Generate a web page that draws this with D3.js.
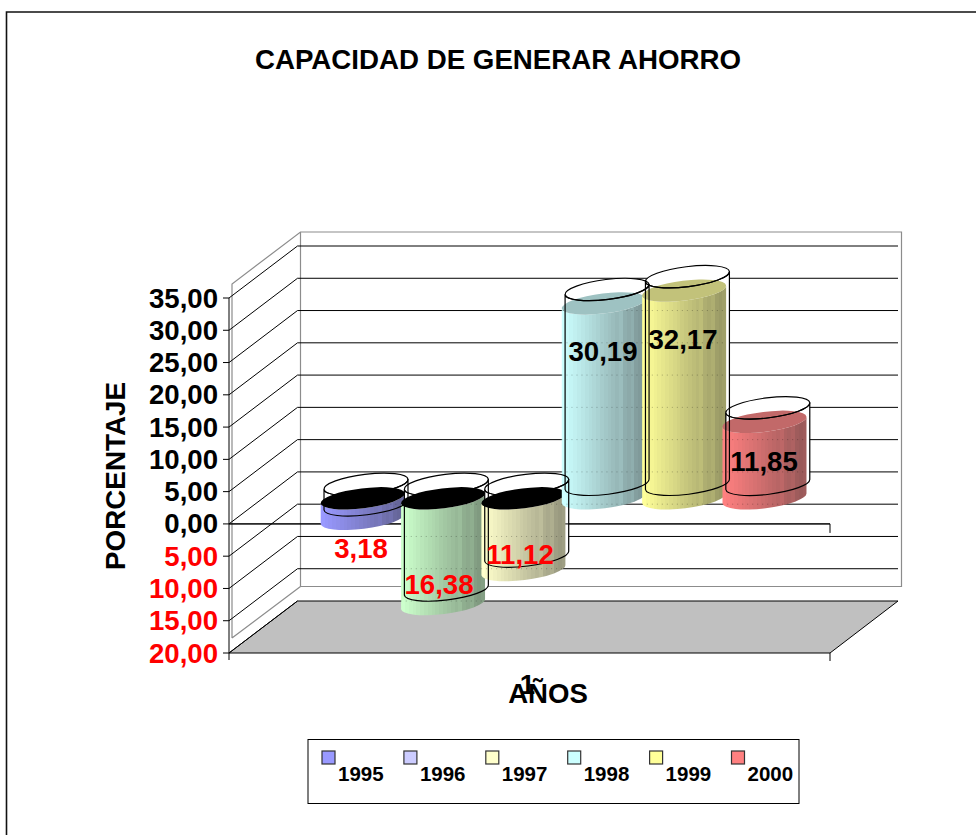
<!DOCTYPE html>
<html><head><meta charset="utf-8">
<script src="https://d3js.org/d3.v7.min.js"></script>
<style>html,body{margin:0;padding:0;background:#fff}svg{display:block}text{font-family:"Liberation Sans",Arial,sans-serif;font-weight:bold}</style>
</head><body><div id="c"></div>
<script>
const years = ["1995","1996","1997","1998","1999","2000"];
const values = [-3.18,-16.38,-11.12,30.19,32.17,11.85];
const labels = ["3,18","16,38","11,12","30,19","32,17","11,85"];
const ticks = [35,30,25,20,15,10,5,0,-5,-10,-15,-20];
const tickLabels = ["35,00","30,00","25,00","20,00","15,00","10,00","5,00","0,00","5,00","10,00","15,00","20,00"];
const legendColors = ["#9999ff","#ccccff","#ffffcc","#ccffff","#ffff99","#ff8080"];
const barColors = ["#9999ff","#ccffcc","#ffffcc","#ccffff","#ffff99","#ff8080"];
const labelPos = [[361,558],[439,594],[520,564],[603,361],[683,349],[764,471]];

const W=976,H=835;
const svg=d3.select("#c").append("svg").attr("width",W).attr("height",H);
const defs=svg.append("defs");
const y=d3.scaleLinear().domain([-20,35]).range([653,298]);
const x=d3.scalePoint().domain(years).range([362.7,764.5]);
const X0=229,X1=830,DX=68.5,DY=-52,BACKR=898;

// frame
svg.append("path").attr("d",`M6.5,${H}V12H${W}`).attr("fill","none").attr("stroke","#111").attr("stroke-width",1.6);
svg.append("text").attr("x",498).attr("y",69).attr("text-anchor","middle").attr("font-size",27.7).text("CAPACIDAD DE GENERAR AHORRO");

// walls
const wall=svg.append("g").attr("fill","none").attr("stroke","#8c8c8c").attr("stroke-width",1.2);
wall.append("path").attr("d","M232,638V284L300.5,232H901.5V586.5H300.5V232M300.5,586.5L232,638");
// floor
svg.append("path").attr("d",`M${X0},${y(-20)}L${X0+DX},${y(-20)+DY}H${BACKR}L${X1},${y(-20)}Z`).attr("fill","#c0c0c0").attr("stroke","#000");

// grid
const grid=svg.append("g").attr("stroke","#000").attr("fill","none");
ticks.forEach(t=>{
  const v=y(t);
  grid.append("path").attr("d",t===-20?`M${X0},${v}L${X0+DX},${v+DY}`:`M${X0},${v}L${X0+DX},${v+DY}H${BACKR}`);
});
// axis
const axis=svg.append("g").attr("stroke","#000");
axis.append("line").attr("x1",X0).attr("x2",X0).attr("y1",y(35)).attr("y2",660);
ticks.forEach(t=>axis.append("line").attr("x1",X0-6).attr("x2",X0).attr("y1",y(t)).attr("y2",y(t)));
axis.append("line").attr("x1",X0).attr("x2",X1).attr("y1",y(0)).attr("y2",y(0));
axis.append("line").attr("x1",X1).attr("x2",X1).attr("y1",y(0)).attr("y2",y(0)+9);
axis.append("line").attr("x1",X1).attr("x2",X1).attr("y1",y(-20)).attr("y2",y(-20)+8);

// tick labels
ticks.forEach((t,i)=>svg.append("text").attr("x",218).attr("y",y(t)+9.5).attr("text-anchor","end")
  .attr("font-size",27.6).attr("fill",t<0?"#ff0000":"#000").text(tickLabels[i]));

// cylinders
const RX=42.3,RY=10,ROT=-7,rad=ROT*Math.PI/180;
const ex=RX*Math.cos(rad),ey=RX*Math.sin(rad);
const ell=(cx,cy)=>`M${cx-ex},${cy-ey}A${RX},${RY} ${ROT} 1 1 ${cx+ex},${cy+ey}A${RX},${RY} ${ROT} 1 1 ${cx-ex},${cy-ey}Z`;
const body=(cx,t,b)=>`M${cx-ex},${t-ey}L${cx-ex},${b-ey}A${RX},${RY} ${ROT} 0 0 ${cx+ex},${b+ey}L${cx+ex},${t+ey}A${RX},${RY} ${ROT} 0 1 ${cx-ex},${t-ey}Z`;
const FY=d=>y(d)-25.6, OY=d=>y(d)-39.6, OX=3.3;

// gradients: banded, lighter at left and darker at right
barColors.forEach((c,i)=>{
  const g=defs.append("linearGradient").attr("id","g"+i).attr("x1",0).attr("x2",1).attr("y1",0).attr("y2",0);
  const dark=d3.interpolateRgb(c,"#333");
  const n=22;
  d3.range(n).forEach(k=>{
    const f=k/(n-1)*0.52-(k>12&&k%3===0?0.05:0);
    const col=dark(Math.max(f,0));
    g.append("stop").attr("offset",k/n).attr("stop-color",col);
    g.append("stop").attr("offset",(k+1)/n).attr("stop-color",col);
  });
  defs.append("clipPath").attr("id","cp"+i).append("path").attr("d",body(x(years[i]),Math.min(FY(0),FY(values[i])),Math.max(FY(0),FY(values[i]))));
});

// white interior of outline cylinders
const whites=svg.append("g");
years.forEach((yr,i)=>{
  const cx=x(yr)+OX;
  const a=OY(0),b=OY(values[i]);
  whites.append("path").attr("d",body(cx,Math.min(a,b),Math.max(a,b))).attr("fill","#fff");
  whites.append("path").attr("d",ell(cx,Math.min(a,b))).attr("fill","#fff");
});
// redraw the zero line on top of the white interiors
svg.append("line").attr("x1",X0).attr("x2",X1).attr("y1",y(0)).attr("y2",y(0)).attr("stroke","#000");
// solid cylinders
years.forEach((yr,i)=>{
  const cx=x(yr),v=values[i];
  const a=FY(0),b=FY(v),top=Math.min(a,b),bot=Math.max(a,b);
  svg.append("path").attr("d",body(cx,top,bot)).attr("fill",`url(#g${i})`);
  svg.append("path").attr("d",ell(cx,top)).attr("fill",v<0?"#000":d3.interpolateRgb(barColors[i],"#333")(0.3));
  // grid seen through the solid
  const see=svg.append("g").attr("clip-path",`url(#cp${i})`).attr("stroke","#000").attr("stroke-opacity",.28).attr("stroke-dasharray","1 4");
  ticks.forEach(t=>see.append("line").attr("x1",cx-RX).attr("x2",cx+RX).attr("y1",y(t)+DY).attr("y2",y(t)+DY));
});
// outline strokes
const outl=svg.append("g").attr("fill","none").attr("stroke","#000").attr("stroke-width",1.2);
years.forEach((yr,i)=>{
  const cx=x(yr)+OX;
  const a=OY(0),b=OY(values[i]),top=Math.min(a,b),bot=Math.max(a,b);
  outl.append("path").attr("d",ell(cx,top));
  outl.append("path").attr("d",body(cx,top,bot));
});

// value labels
years.forEach((yr,i)=>svg.append("text").attr("x",labelPos[i][0]).attr("y",labelPos[i][1]).attr("text-anchor","middle")
  .attr("font-size",27.6).attr("fill",values[i]<0?"#ff0000":"#000").text(labels[i]));

// axis titles
svg.append("text").attr("transform","translate(125,476) rotate(-90)").attr("text-anchor","middle").attr("font-size",27.8).text("PORCENTAJE");
svg.append("text").attr("x",548).attr("y",703).attr("text-anchor","middle").attr("font-size",27.6).text("AÑOS");
svg.append("text").attr("x",527.5).attr("y",694).attr("text-anchor","middle").attr("font-size",27.6).text("1");

// legend
svg.append("rect").attr("x",308).attr("y",739.5).attr("width",491).attr("height",64).attr("fill","#fff").attr("stroke","#000");
const lx=d3.scalePoint().domain(years).range([322,731.5]);
years.forEach((yr,i)=>{
  svg.append("rect").attr("x",lx(yr)).attr("y",751).attr("width",13).attr("height",13).attr("fill",legendColors[i]).attr("stroke","#333").attr("stroke-width",1.2);
  svg.append("text").attr("x",lx(yr)+16).attr("y",781).attr("font-size",20.5).text(yr);
});
</script></body></html>
